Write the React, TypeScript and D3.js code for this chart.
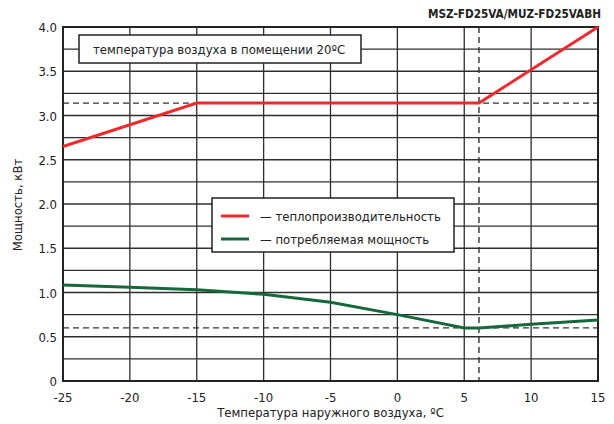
import React from "react";
import * as d3 from "d3";

const title = "MSZ-FD25VA/MUZ-FD25VABH";
const noteText = "температура воздуха в помещении 20ºC";
const xLabel = "Температура наружного воздуха, ºC";
const yLabel = "Мощность, кВт";
const legendLabels = ["— теплопроизводительность", "— потребляемая мощность"];

const xTicks = [-25, -20, -15, -10, -5, 0, 5, 10, 15];
const yTicks = [0, 0.5, 1.0, 1.5, 2.0, 2.5, 3.0, 3.5, 4.0];
const yTickLabels = ["0", "0.5", "1.0", "1.5", "2.0", "2.5", "3.0", "3.5", "4.0"];
const yGrid = [0.25, 0.5, 0.75, 1, 1.25, 1.5, 1.75, 2, 2.25, 2.5, 2.75, 3, 3.25, 3.5, 3.75];

const heatX = [-25, -15, 6.1, 15];
const heatY = [2.65, 3.14, 3.14, 4.0];
const powerX = [-25, -20, -15, -10, -5, 0, 5, 6.1, 10, 15];
const powerY = [1.085, 1.06, 1.03, 0.98, 0.89, 0.75, 0.6, 0.6, 0.64, 0.69];

const refX = 6.1;
const refHeat = 3.14;
const refPower = 0.6;

const RED = "#ee2a2f";
const GREEN = "#16683a";
const GRID = "#2e2e2e";
const FONT = "'DejaVu Sans Condensed', 'Liberation Sans', sans-serif";

export default function App() {
  const W = 614, H = 424;
  const L = 63, R = 598, T = 27, B = 381;
  const x = d3.scaleLinear().domain([-25, 15]).range([L, R]);
  const y = d3.scaleLinear().domain([0, 4]).range([B, T]);
  const line = d3.line<[number, number]>().x(d => x(d[0])).y(d => y(d[1]));
  const heat = heatX.map((v, i) => [v, heatY[i]] as [number, number]);
  const power = powerX.map((v, i) => [v, powerY[i]] as [number, number]);

  return (
    <svg width={W} height={H} style={{ position: "absolute", left: 0, top: 0, background: "#fff" }} fontFamily={FONT}>
      <rect x={0} y={0} width={W} height={H} fill="#fff" />
      <text x={601} y={18} textAnchor="end" fontWeight="bold" fontSize={12.5} fill="#222" textLength={173} lengthAdjust="spacingAndGlyphs">{title}</text>
      {yGrid.map(v => (
        <line key={"h" + v} x1={L} x2={R} y1={y(v)} y2={y(v)} stroke={GRID} strokeWidth={1.3} />
      ))}
      {xTicks.slice(1, -1).map(v => (
        <line key={"v" + v} x1={x(v)} x2={x(v)} y1={T} y2={B} stroke={GRID} strokeWidth={1.3} />
      ))}
      <rect x={L} y={T} width={R - L} height={B - T} fill="none" stroke="#222" strokeWidth={2} />
      <line x1={L} x2={R} y1={y(refHeat)} y2={y(refHeat)} stroke="#333" strokeWidth={1.4} strokeDasharray="6,4" />
      <line x1={L} x2={R} y1={y(refPower)} y2={y(refPower)} stroke="#333" strokeWidth={1.4} strokeDasharray="6,4" />
      <line x1={x(refX)} x2={x(refX)} y1={T} y2={B} stroke="#333" strokeWidth={1.4} strokeDasharray="6,4" />
      <path d={line(heat) || ""} fill="none" stroke={RED} strokeWidth={3} />
      <path d={line(power) || ""} fill="none" stroke={GREEN} strokeWidth={3} />
      <rect x={79} y={35} width={282} height={28} fill="#fff" stroke="#222" strokeWidth={1.5} />
      <text x={93} y={54} fontSize={13} fill="#222">{noteText}</text>
      <rect x={212} y={198} width={242} height={54} fill="#fff" stroke="#222" strokeWidth={1.5} />
      <line x1={221} x2={249} y1={216} y2={216} stroke={RED} strokeWidth={3} />
      <line x1={221} x2={249} y1={239} y2={239} stroke={GREEN} strokeWidth={3} />
      <text x={260} y={221} fontSize={13} fill="#222">{legendLabels[0]}</text>
      <text x={260} y={244} fontSize={13} fill="#222">{legendLabels[1]}</text>
      {yTicks.map((v, i) => (
        <text key={"yt" + v} x={57} y={y(v) + 5} textAnchor="end" fontSize={13} fill="#222">{yTickLabels[i]}</text>
      ))}
      {xTicks.map(v => (
        <text key={"xt" + v} x={x(v)} y={402} textAnchor="middle" fontSize={13} fill="#222">{String(v)}</text>
      ))}
      <text x={(L + R) / 2} y={417} textAnchor="middle" fontSize={13} fill="#222">{xLabel}</text>
      <text transform={`translate(22, 205) rotate(-90)`} textAnchor="middle" fontSize={13} fill="#222">{yLabel}</text>
    </svg>
  );
}
